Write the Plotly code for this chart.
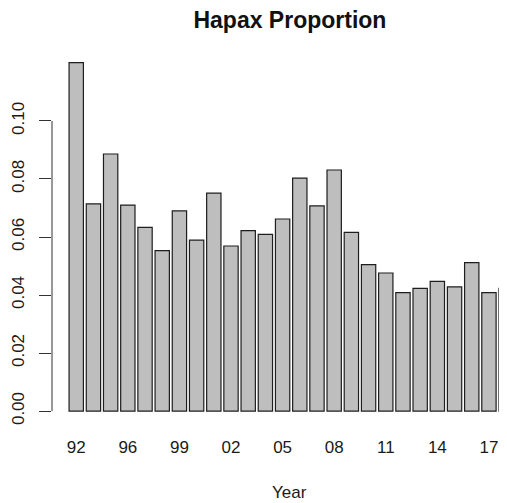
import plotly.graph_objects as go

years = ["92", "94", "95", "96", "97", "98", "99", "00", "01", "02", "03", "04", "05",
         "06", "07", "08", "09", "10", "11", "12", "13", "14", "15", "16", "17", "18"]
proportion = [0.1201, 0.0714, 0.0886, 0.0710, 0.0633, 0.0553, 0.0690, 0.0589, 0.0751,
              0.0569, 0.0622, 0.0609, 0.0662, 0.0803, 0.0707, 0.0831, 0.0616, 0.0505,
              0.0476, 0.0408, 0.0423, 0.0447, 0.0428, 0.0512, 0.0408, 0.0423]
y_ticks = [0.00, 0.02, 0.04, 0.06, 0.08, 0.10]
y_tick_labels = ["0.00", "0.02", "0.04", "0.06", "0.08", "0.10"]
shown_years = years[::3]

FONT = "Liberation Sans, Arial, sans-serif"

fig = go.Figure(go.Bar(
    x=years, y=proportion,
    marker=dict(color="#bebebe", line=dict(color="#1e1e1e", width=1.2)),
))

# page body has an 8px margin, so the figure is sized to fit the window
fig.update_layout(
    width=499, height=495,
    margin=dict(l=44, r=0, t=41, b=78),
    plot_bgcolor="white", paper_bgcolor="white",
    bargap=1 - 1 / 1.2,
    showlegend=False,
    font=dict(family=FONT, size=17, color="#1a1a1a"),
    title=dict(text="<b>Hapax Proportion</b>", x=0.565, xanchor="center",
               y=1 - 12 / 495, yanchor="middle", xref="container", yref="container",
               font=dict(family=FONT, size=23, color="#111")),
)

fig.update_xaxes(
    type="category", range=[-1.41, 25.05],
    tickmode="array", tickvals=shown_years, ticktext=shown_years,
    showline=False, showgrid=False, zeroline=False, ticks="",
    ticklabelstandoff=10,
    tickfont=dict(family=FONT, size=17, color="#1a1a1a"),
)
fig.update_yaxes(
    range=[-0.0048, 0.1248],
    tickmode="array", tickvals=y_ticks, ticktext=y_tick_labels,
    tickangle=-90, ticks="outside", ticklen=12, tickwidth=1, tickcolor="#333",
    showline=False, showgrid=False, zeroline=False,
    ticklabelstandoff=8,
    tickfont=dict(family=FONT, size=17, color="#1a1a1a"),
)

# R-style y axis line spanning only the tick range
fig.add_shape(type="line", xref="paper", yref="y", x0=0, x1=0,
              y0=min(y_ticks), y1=max(y_ticks), line=dict(color="#333", width=1))

fig.add_annotation(text="Year", xref="paper", yref="paper", x=0.523, y=-0.179,
                   xanchor="center", yanchor="middle", showarrow=False,
                   font=dict(family=FONT, size=17, color="#1a1a1a"))

fig.write_html("out.html")
